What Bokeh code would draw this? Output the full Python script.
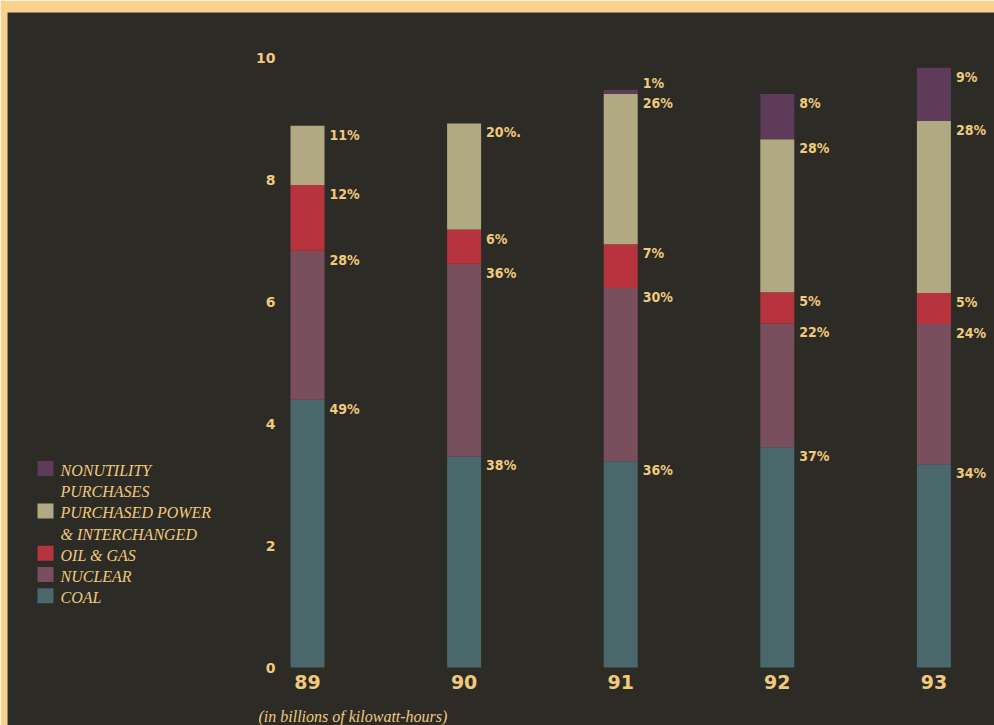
from bokeh.plotting import figure
from bokeh.models import ColumnDataSource, Range1d
from bokeh.core.properties import value
from bokeh.embed import file_html
from bokeh.resources import INLINE

# ---------------- data (billions of kWh) ----------------
years = [89, 90, 91, 92, 93]
year_labels = ["89", "90", "91", "92", "93"]
coal = [4.39, 3.46, 3.38, 3.61, 3.33]
nuclear = [2.44, 3.16, 2.84, 2.03, 2.30]
oil_gas = [1.08, 0.56, 0.72, 0.51, 0.51]
purchased = [0.97, 1.74, 2.46, 2.51, 2.82]
nonutility = [0.00, 0.00, 0.07, 0.74, 0.87]

coal_pct = ["49%", "38%", "36%", "37%", "34%"]
nuclear_pct = ["28%", "36%", "30%", "22%", "24%"]
oil_pct = ["12%", "6%", "7%", "5%", "5%"]
purchased_pct = ["11%", "20%.", "26%", "28%", "28%"]
nonutility_pct = ["", "", "1%", "8%", "9%"]

y_ticks = [0, 2, 4, 6, 8, 10]
y_tick_labels = ["0", "2", "4", "6", "8", "10"]

series_keys = ["nonutility", "purchased", "oil_gas", "nuclear", "coal"]
legend_labels = ["NONUTILITY\nPURCHASES", "PURCHASED POWER\n& INTERCHANGED",
                 "OIL & GAS", "NUCLEAR", "COAL"]
caption = "(in billions of kilowatt-hours)"

# ---------------- styles ----------------
BG = "#2c2b26"
BORDER = "#f9d18c"
TEXT = "#f1c97c"
colors = {"coal": "#4a676c", "nuclear": "#7a4f5d", "oil_gas": "#b7333d",
          "purchased": "#b1a982", "nonutility": "#5e3b58"}

W, H = 994, 725
LEFT, TOP = 7, 12
# pixel layout helpers (frame covers x 7..994, y 12..725)
X_CENTER_PX, X_CENTER_YEAR, X_STEP_PX = 620.2, 91, 156.6
ZERO_PX, PX_PER_UNIT = 667, 61.0

x_start = X_CENTER_YEAR + (LEFT - X_CENTER_PX) / X_STEP_PX
x_end = X_CENTER_YEAR + (W - X_CENTER_PX) / X_STEP_PX
y_start = -(H - ZERO_PX) / PX_PER_UNIT
y_end = (ZERO_PX - TOP) / PX_PER_UNIT


def px_x(px):
    return X_CENTER_YEAR + (px - X_CENTER_PX) / X_STEP_PX


def px_y(py):
    return (ZERO_PX - py) / PX_PER_UNIT


p = figure(width=W, height=H, output_backend="svg", toolbar_location=None,
           x_axis_type=None, y_axis_type=None,
           x_range=Range1d(x_start, x_end), y_range=Range1d(y_start, y_end),
           min_border_left=LEFT, min_border_top=TOP,
           min_border_right=0, min_border_bottom=0)
p.background_fill_color = BG
p.border_fill_color = BORDER
p.outline_line_color = None
p.grid.visible = False

bar_w = 34 / X_STEP_PX

stack_order = ["coal", "nuclear", "oil_gas", "purchased", "nonutility"]
data = dict(years=years, coal=coal, nuclear=nuclear, oil_gas=oil_gas,
            purchased=purchased, nonutility=nonutility)
src = ColumnDataSource(data)
p.vbar_stack(stack_order, x="years", width=bar_w, source=src,
             color=[colors[k] for k in stack_order], line_color=None)

# percentage labels at top of each segment
pct = {"coal": coal_pct, "nuclear": nuclear_pct, "oil_gas": oil_pct,
       "purchased": purchased_pct, "nonutility": nonutility_pct}
vals = {"coal": coal, "nuclear": nuclear, "oil_gas": oil_gas,
        "purchased": purchased, "nonutility": nonutility}
lx, ly, lt, ly_small, lx_small, lt_small = [], [], [], [], [], []
for i, yr in enumerate(years):
    cum = 0.0
    for k in stack_order:
        v = vals[k][i]
        cum += v
        if not pct[k][i]:
            continue
        if v * PX_PER_UNIT < 10:
            lx_small.append(yr + bar_w / 2)
            ly_small.append(cum)
            lt_small.append(pct[k][i])
        else:
            lx.append(yr + bar_w / 2)
            ly.append(cum)
            lt.append(pct[k][i])

pct_font = value("'DejaVu Sans Condensed', 'Roboto', sans-serif")
p.text(x=lx, y=ly, text=lt, x_offset=5, y_offset=1, text_baseline="top",
       text_align="left", text_color=TEXT, text_font=pct_font,
       text_font_style="bold", text_font_size="14px")
p.text(x=lx_small, y=ly_small, text=lt_small, x_offset=5, y_offset=1,
       text_baseline="bottom", text_align="left", text_color=TEXT,
       text_font=pct_font, text_font_style="bold", text_font_size="14px")

# y tick labels
p.text(x=[px_x(275)] * len(y_ticks), y=y_ticks, text=y_tick_labels,
       text_align="right", text_baseline="middle", text_color=TEXT,
       text_font=value("DejaVu Sans"), text_font_style="bold",
       text_font_size="14px")

# year labels
p.text(x=years, y=[px_y(681)] * len(years), text=year_labels,
       text_align="center", text_baseline="middle", text_color=TEXT,
       text_font=value("DejaVu Sans"), text_font_style="bold",
       text_font_size="19px")

# legend (manual)
line_px0, line_step = 470, 21.2
sq_x, sq_y, tx, ty, tt = [], [], [], [], []
sq_c = []
line = 0
for key, lab in zip(series_keys, legend_labels):
    parts = lab.split("\n")
    sq_x.append(px_x(45))
    sq_y.append(px_y(line_px0 + line_step * line - 2))
    sq_c.append(colors[key])
    for part in parts:
        tx.append(px_x(60))
        ty.append(px_y(line_px0 + line_step * line))
        tt.append(part)
        line += 1
p.rect(x=sq_x, y=sq_y, width=16, height=15, width_units="screen",
       height_units="screen", fill_color=sq_c, line_color=None)
p.text(x=tx, y=ty, text=tt, text_align="left", text_baseline="middle",
       text_color=TEXT, text_font=value("Liberation Serif"),
       text_font_style="italic", text_font_size="16px")

# caption
p.text(x=[px_x(258)], y=[px_y(716)], text=[caption], text_align="left",
       text_baseline="middle", text_color=TEXT,
       text_font=value("Liberation Serif"), text_font_style="italic",
       text_font_size="16px")

open("out.html", "w").write(file_html(p, INLINE))
